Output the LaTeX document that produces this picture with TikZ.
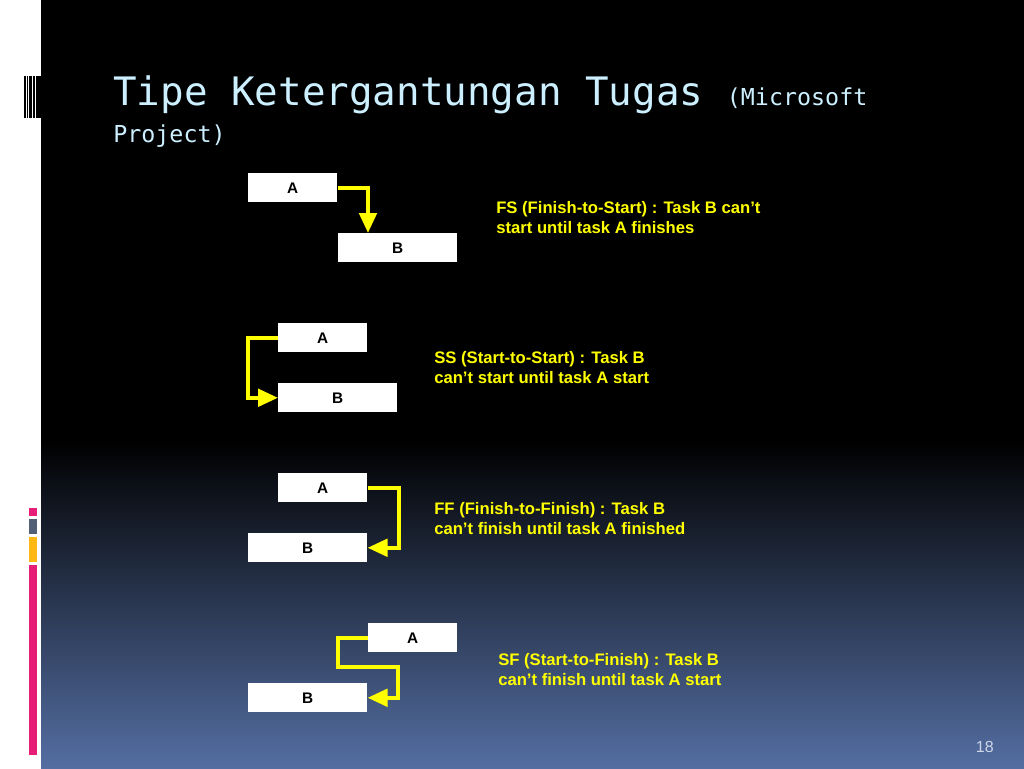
\documentclass[tikz,border=0pt]{standalone}
\usepackage{fontspec}
\setmainfont{Liberation Sans}
\newfontfamily\titlefont{DejaVu Sans Mono}
\usetikzlibrary{arrows.meta}
\definecolor{titlecyan}{RGB}{204,240,255}
\definecolor{linkyellow}{RGB}{255,255,0}
\definecolor{bottomblue}{RGB}{84,110,162}
\definecolor{barpink}{RGB}{230,30,120}
\definecolor{bargray}{RGB}{82,96,118}
\definecolor{baryellow}{RGB}{252,184,20}
\definecolor{pagegray}{RGB}{205,214,232}
\tikzset{
  task/.style={rectangle, fill=white, inner sep=0pt, minimum height=21.75pt, anchor=north west, text=black, font=\fontsize{11.5}{13}\selectfont\bfseries},
  shorttask/.style={task, minimum width=66.75pt},
  longtask/.style={task, minimum width=89.25pt},
  link/.style={draw=linkyellow, line width=3pt, -{Triangle[length=15pt,width=13pt]}},
  note/.style={anchor=north west, inner sep=0pt, align=left, text=linkyellow, font=\fontsize{12.5}{15}\selectfont\bfseries},
}
\begin{document}
\begin{tikzpicture}[x=0.75pt, y=-0.75pt]
  \useasboundingbox (0,0) rectangle (1024,768);
  % Background
  \fill[white] (0,0) rectangle (41,768);
  \fill[black] (41,0) rectangle (1024,440);
  \shade[top color=black, bottom color=bottomblue] (41,440) rectangle (1024,768);
  \fill[black] (24.3,76) rectangle (25.7,118);
  \fill[black] (26.7,76) rectangle (28,118);
  \fill[black] (29,76) rectangle (31.7,118);
  \fill[black] (33,76) rectangle (34.7,118);
  \fill[black] (35.7,76) rectangle (41,118);
  \fill[barpink] (29,508) rectangle (37,516);
  \fill[bargray] (29,519) rectangle (37,534);
  \fill[baryellow] (29,537) rectangle (37,562);
  \fill[barpink] (29,565) rectangle (37,755);
  % Header
  \node (title) [anchor=base west, inner sep=0pt, text=titlecyan, font=\titlefont\fontsize{29.4}{35}\selectfont] at (113,105) {Tipe Ketergantungan Tugas {\fontsize{17.5}{21}\selectfont (Microsoft}};
  \node (subtitle) [anchor=base west, inner sep=0pt, text=titlecyan, font=\titlefont\fontsize{17.5}{21}\selectfont] at (113,142) {Project)};
  \node (pagenum) [anchor=base east, inner sep=0pt, text=pagegray, font=\fontsize{12}{14}\selectfont] at (994,752) {18};
  % Nodes
  \node (fsA) [shorttask] at (248,173) {A};
  \node (fsB) [longtask] at (338,233) {B};
  \node (ssA) [shorttask] at (278,323) {A};
  \node (ssB) [longtask] at (278,383) {B};
  \node (ffA) [shorttask] at (278,473) {A};
  \node (ffB) [longtask] at (248,533) {B};
  \node (sfA) [shorttask] at (368,623) {A};
  \node (sfB) [longtask] at (248,683) {B};
  \coordinate (fsDrop) at (368,233);
  \coordinate (sfTurn) at (398,667);
  % Notes
  \node (fsNote) [note] at (496,201) {FS (Finish-to-Start) : Task B can’t\\start until task A finishes};
  \node (ssNote) [note] at (434,351) {SS (Start-to-Start) : Task B\\can’t start until task A start};
  \node (ffNote) [note] at (434,502) {FF (Finish-to-Finish) : Task B\\can’t finish until task A finished};
  \node (sfNote) [note] at (498,653) {SF (Start-to-Finish) : Task B\\can’t finish until task A start};
  % Arrow
  \draw[link] (fsA.east) -| (fsDrop);
  \draw[link] (ssA.west) -- ++(-30,0) |- (ssB.west);
  \draw[link] (ffA.east) -- ++(31,0) |- (ffB.east);
  \draw[link] (sfA.west) -- ++(-30,0) |- (sfTurn) |- (sfB.east);
\end{tikzpicture}
\end{document}
